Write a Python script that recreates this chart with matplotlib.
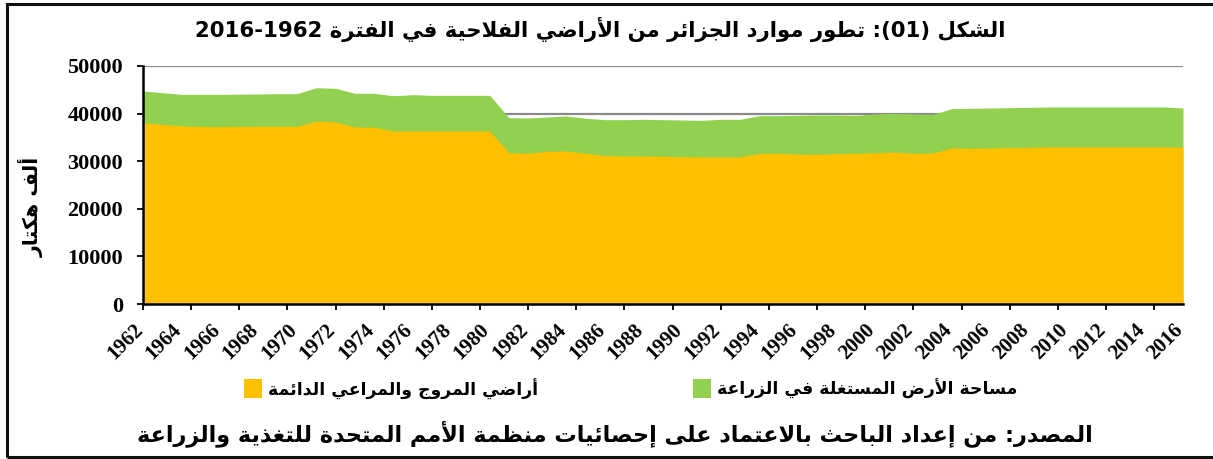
import re
import numpy as np
import matplotlib
matplotlib.use('Agg')
import matplotlib.pyplot as plt
from matplotlib.patches import Rectangle
from matplotlib.transforms import ScaledTranslation

# ---------------- data ----------------
years = list(range(1962, 2017))
pasture = [38090, 37750, 37400, 37300, 37250, 37300, 37330, 37330, 37330, 38450,
           38240, 37180, 37120, 36340, 36340, 36340, 36340, 36340, 36340, 31790,
           31660, 32080, 32140, 31660, 31160, 31090, 31090, 31030, 30950, 30880,
           30880, 30880, 31660, 31660, 31510, 31450, 31580, 31660, 31790, 31930,
           31660, 31720, 32770, 32710, 32770, 32840, 32920, 32980, 32980, 32980,
           32980, 32980, 32980, 32980, 32980]
agri = [44750, 44390, 44050, 44050, 44050, 44080, 44120, 44180, 44180, 45440,
        45310, 44260, 44260, 43760, 43970, 43840, 43840, 43840, 43840, 39140,
        39080, 39290, 39500, 39010, 38720, 38720, 38800, 38720, 38660, 38590,
        38800, 38800, 39560, 39560, 39640, 39710, 39710, 39640, 39920, 40060,
        39920, 39850, 41030, 41110, 41180, 41240, 41320, 41390, 41390, 41390,
        41390, 41390, 41390, 41390, 41180]
yticks = [0, 10000, 20000, 30000, 40000, 50000]
xtick_years = list(range(1962, 2017, 2))

title_text = "الشكل (01): تطور موارد الجزائر من الأراضي الفلاحية في الفترة 1962-2016"
ylabel_text = "ألف هكتار"
legend_agri = "مساحة الأرض المستغلة في الزراعة"
legend_pasture = "أراضي المروج والمراعي الدائمة"
source_text = "المصدر: من إعداد الباحث بالاعتماد على إحصائيات منظمة الأمم المتحدة للتغذية والزراعة"

# ---------------- simple Arabic shaping + RTL ordering ----------------
_FORMS = {}
for _c, _b, _n in [(0x0622, 0xFE81, 2), (0x0623, 0xFE83, 2), (0x0624, 0xFE85, 2),
                   (0x0625, 0xFE87, 2), (0x0626, 0xFE89, 4), (0x0627, 0xFE8D, 2),
                   (0x0628, 0xFE8F, 4), (0x0629, 0xFE93, 2), (0x062A, 0xFE95, 4),
                   (0x062B, 0xFE99, 4), (0x062C, 0xFE9D, 4), (0x062D, 0xFEA1, 4),
                   (0x062E, 0xFEA5, 4), (0x062F, 0xFEA9, 2), (0x0630, 0xFEAB, 2),
                   (0x0631, 0xFEAD, 2), (0x0632, 0xFEAF, 2), (0x0633, 0xFEB1, 4),
                   (0x0634, 0xFEB5, 4), (0x0635, 0xFEB9, 4), (0x0636, 0xFEBD, 4),
                   (0x0637, 0xFEC1, 4), (0x0638, 0xFEC5, 4), (0x0639, 0xFEC9, 4),
                   (0x063A, 0xFECD, 4), (0x0641, 0xFED1, 4), (0x0642, 0xFED5, 4),
                   (0x0643, 0xFED9, 4), (0x0644, 0xFEDD, 4), (0x0645, 0xFEE1, 4),
                   (0x0646, 0xFEE5, 4), (0x0647, 0xFEE9, 4), (0x0648, 0xFEED, 2),
                   (0x0649, 0xFEEF, 2), (0x064A, 0xFEF1, 4)]:
    _FORMS[chr(_c)] = [_b + i for i in range(_n)]
_LA = {'\u0622': 0xFEF5, '\u0623': 0xFEF7, '\u0625': 0xFEF9, '\u0627': 0xFEFB}
_MIRROR = {'(': ')', ')': '(', '[': ']', ']': '['}


def _shape(s):
    units = []
    i = 0
    while i < len(s):
        c = s[i]
        if c == '\u0644' and i + 1 < len(s) and s[i + 1] in _LA:
            units.append(('LA', _LA[s[i + 1]]))
            i += 2
        else:
            units.append((c, None))
            i += 1

    def jt(u):
        if u[0] == 'LA':
            return 'R'
        f = _FORMS.get(u[0])
        if f is None:
            return None
        return 'D' if len(f) == 4 else 'R'

    out = []
    for k, u in enumerate(units):
        t = jt(u)
        prev = jt(units[k - 1]) if k > 0 else None
        nxt = jt(units[k + 1]) if k + 1 < len(units) else None
        jp = t is not None and prev == 'D'
        jn = t == 'D' and nxt is not None
        if u[0] == 'LA':
            out.append(chr(u[1] + (1 if jp else 0)))
            continue
        if t is None:
            out.append(u[0])
            continue
        f = _FORMS[u[0]]
        if t == 'R':
            out.append(chr(f[1] if jp else f[0]))
        else:
            if jp and jn:
                out.append(chr(f[3]))
            elif jp:
                out.append(chr(f[1]))
            elif jn:
                out.append(chr(f[2]))
            else:
                out.append(chr(f[0]))
    return ''.join(out)


def ar(s):
    s = _shape(s)
    r = ''.join(_MIRROR.get(c, c) for c in reversed(s))
    # each number is an LTR run; the range reads right-to-left as in the source
    r = re.sub(r'[0-9]+', lambda m: m.group(0)[::-1], r)
    return r


# ---------------- figure ----------------
W, H = 1213, 459
fig = plt.figure(figsize=(W / 100, H / 100), dpi=100)
fig.patch.set_facecolor('white')


def fx(x):
    return x / W


def fy(y):
    return 1 - y / H


ax = fig.add_axes([fx(143), fy(304), fx(1183) - fx(143), fy(66) - fy(304)])

GREEN = '#92D050'
YELLOW = '#FFC000'
ax.fill_between(years, 0, agri, color=GREEN, lw=0, zorder=2)
ax.fill_between(years, 0, pasture, color=YELLOW, lw=0, zorder=3)

ax.set_xlim(1962, 2016)
ax.set_ylim(0, 50000)
ax.set_yticks(yticks)
ax.set_yticklabels([str(v) for v in yticks],
                   fontfamily='Liberation Serif', fontweight='bold', fontsize=16)
ax.yaxis.grid(True, color='#8a8a8a', lw=1.6, zorder=1)
ax.set_axisbelow(True)

for s in ['top', 'right']:
    ax.spines[s].set_visible(False)
for s in ['left', 'bottom']:
    ax.spines[s].set_linewidth(1.8)
    ax.spines[s].set_color('black')
    ax.spines[s].set_zorder(5)

ax.tick_params(axis='y', direction='out', length=4.5, width=1.3, pad=10)

# tick marks every 2.5 years, labels on even years
ax.xaxis.remove_overlapping_locs = False
ax.set_xticks(np.arange(1962, 2016.01, 2.5), minor=True)
ax.set_xticks(xtick_years)
ax.set_xticklabels([str(y) for y in xtick_years], rotation=45, ha='right',
                   va='center', rotation_mode='anchor',
                   fontfamily='Liberation Serif', fontweight='bold', fontsize=15)
ax.tick_params(axis='x', which='major', length=0, pad=16.5)
ax.tick_params(axis='x', which='minor', direction='out', length=4.5, width=1.3)
shift = ScaledTranslation(-0.03, 0, fig.dpi_scale_trans)
for lab in ax.get_xticklabels():
    lab.set_transform(lab.get_transform() + shift)

AR = dict(family='DejaVu Sans', fontweight='bold', color='black')

fig.canvas.draw()
rend = fig.canvas.get_renderer()


def fit(t, target, use_height=False):
    bb = t.get_window_extent(renderer=rend)
    cur = bb.height if use_height else bb.width
    t.set_fontsize(t.get_fontsize() * target / cur)


t_title = fig.text(fx(600), fy(29), ar(title_text), ha='center', va='center',
                   fontsize=16, **AR)
fit(t_title, 815)

t_ylab = fig.text(fx(31), fy(207), ar(ylabel_text), ha='center', va='center',
                  rotation=90, fontsize=14, **AR)
fit(t_ylab, 100, use_height=True)

t_leg1 = fig.text(fx(268), fy(389), ar(legend_pasture), ha='left', va='center',
                  fontsize=14, **AR)
t_leg2 = fig.text(fx(717), fy(389), ar(legend_agri), ha='left', va='center',
                  fontsize=14, **AR)
w1 = t_leg1.get_window_extent(renderer=rend).width
w2 = t_leg2.get_window_extent(renderer=rend).width
sc = (260 + 313) / (w1 + w2)
t_leg1.set_fontsize(14 * sc)
t_leg2.set_fontsize(14 * sc)

fig.add_artist(Rectangle((fx(244), fy(398)), fx(262) - fx(244), fy(379) - fy(398),
                         transform=fig.transFigure, color=YELLOW, lw=0))
fig.add_artist(Rectangle((fx(693), fy(398)), fx(711) - fx(693), fy(379) - fy(398),
                         transform=fig.transFigure, color=GREEN, lw=0))

t_src = fig.text(fx(615), fy(434), ar(source_text), ha='center', va='center',
                 fontsize=16, **AR)
fit(t_src, 960)

# outer frame (right side runs past the image edge)
fig.add_artist(Rectangle((fx(7), fy(457)), 1.2, fy(4) - fy(457),
                         transform=fig.transFigure, fill=False,
                         edgecolor='#111111', lw=2.2))

fig.savefig('out.png', dpi=100)
